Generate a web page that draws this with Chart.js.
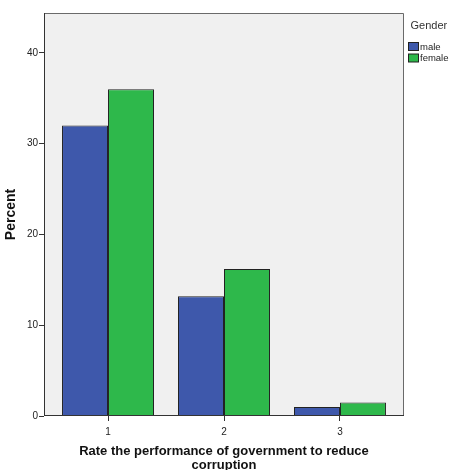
<!DOCTYPE html>
<html>
<head>
<meta charset="utf-8">
<script src="https://cdn.jsdelivr.net/npm/chart.js@4/dist/chart.umd.min.js"></script>
<style>
  html, body { margin: 0; padding: 0; background: #ffffff; }
  #wrap { width: 450px; height: 470px; position: relative; }
</style>
</head>
<body>
<div id="wrap"><canvas id="c" width="450" height="470"></canvas></div>
<script>
const categories = ['1', '2', '3'];
const seriesNames = ['male', 'female'];
const maleValues = [32.0, 13.2, 1.0];
const femaleValues = [36.0, 16.2, 1.5];
const yTickValues = [0, 10, 20, 30, 40];
const legendTitle = 'Gender';
const xTitle = ['Rate the performance of government to reduce', 'corruption'];
const yTitle = 'Percent';

const FONT = "'Liberation Sans', Arial, sans-serif";

const framePlugin = {
  id: 'frame',
  beforeDatasetsDraw(chart) {
    const { ctx, chartArea: a } = chart;
    ctx.save();
    ctx.fillStyle = '#f0f0f0';
    ctx.fillRect(a.left, a.top, a.right - a.left, a.bottom - a.top);
    ctx.restore();
  },
  afterDatasetsDraw(chart) {
    const { ctx, chartArea: a } = chart;
    ctx.save();
    ctx.strokeStyle = '#6a6a6a';
    ctx.lineWidth = 1;
    ctx.beginPath();
    ctx.moveTo(a.left, a.top + 0.5);
    ctx.lineTo(a.right - 0.5, a.top + 0.5);
    ctx.lineTo(a.right - 0.5, a.bottom);
    ctx.stroke();
    ctx.strokeStyle = '#333333';
    ctx.beginPath();
    ctx.moveTo(a.left + 0.5, a.top);
    ctx.lineTo(a.left + 0.5, a.bottom);
    ctx.moveTo(a.left, a.bottom - 0.5);
    ctx.lineTo(a.right, a.bottom - 0.5);
    ctx.stroke();
    ctx.restore();
  },
  afterDraw(chart) {
    const { ctx } = chart;
    ctx.save();
    ctx.fillStyle = '#333333';
    ctx.textBaseline = 'middle';
    ctx.textAlign = 'left';
    ctx.font = '11px ' + FONT;
    ctx.fillText(legendTitle, 410.5, 25.5);
    ctx.font = '9.5px ' + FONT;
    chart.data.datasets.forEach((ds, i) => {
      const y = 42 + i * 11.5;
      ctx.fillStyle = ds.backgroundColor;
      ctx.fillRect(408.5, y + 0.5, 10, 8);
      ctx.strokeStyle = '#222222';
      ctx.lineWidth = 1;
      ctx.strokeRect(408.5, y + 0.5, 10, 8);
      ctx.fillStyle = '#222222';
      ctx.fillText(ds.label, 420, y + 5);
    });
    ctx.restore();
  }
};

new Chart(document.getElementById('c'), {
  type: 'bar',
  data: {
    datasets: [
      {
        label: seriesNames[0],
        data: categories.map((c, i) => ({ x: Number(c), y: maleValues[i] })),
        backgroundColor: '#3e58ab',
        borderColor: '#222222',
        borderWidth: 1,
        inflateAmount: 0,
        categoryPercentage: 92 / 116,
        barPercentage: 1.0
      },
      {
        label: seriesNames[1],
        data: categories.map((c, i) => ({ x: Number(c), y: femaleValues[i] })),
        backgroundColor: '#2eb84b',
        borderColor: '#222222',
        borderWidth: 1,
        inflateAmount: 0,
        categoryPercentage: 92 / 116,
        barPercentage: 1.0
      }
    ]
  },
  options: {
    responsive: false,
    animation: false,
    devicePixelRatio: 1,
    layout: { padding: { top: 13, right: 46, bottom: 0, left: 0 } },
    plugins: {
      legend: { display: false },
      tooltip: { enabled: false }
    },
    scales: {
      x: {
        type: 'linear',
        offset: false,
        min: 0.448,
        max: 3.552,
        afterBuildTicks: (scale) => {
          scale.ticks = categories.map(c => ({ value: Number(c) }));
        },
        afterFit: (scale) => { scale.height = 54; },
        ticks: {
          color: '#222222',
          font: { family: FONT, size: 10 },
          padding: 5,
          maxRotation: 0,
          callback: (v) => String(v)
        },
        grid: {
          display: true,
          offset: false,
          drawOnChartArea: false,
          drawTicks: true,
          tickLength: 5,
          color: '#333333'
        },
        border: { display: false },
        title: {
          display: true,
          text: xTitle,
          color: '#111111',
          font: { family: FONT, size: 13, weight: 'bold', lineHeight: 1.1 },
          padding: { top: 0, bottom: -2.5 }
        }
      },
      y: {
        min: 0,
        max: 44.4,
        afterBuildTicks: (scale) => {
          scale.ticks = yTickValues.map(v => ({ value: v }));
        },
        afterFit: (scale) => { scale.width = 44; },
        ticks: {
          color: '#222222',
          font: { family: FONT, size: 10 },
          padding: 1
        },
        grid: {
          display: true,
          drawOnChartArea: false,
          drawTicks: true,
          tickLength: 5,
          color: '#333333'
        },
        border: { display: false },
        title: {
          display: true,
          text: yTitle,
          color: '#111111',
          font: { family: FONT, size: 14, weight: 'bold' },
          padding: { top: 3, bottom: 0 }
        }
      }
    }
  },
  plugins: [framePlugin]
});
</script>
</body>
</html>
